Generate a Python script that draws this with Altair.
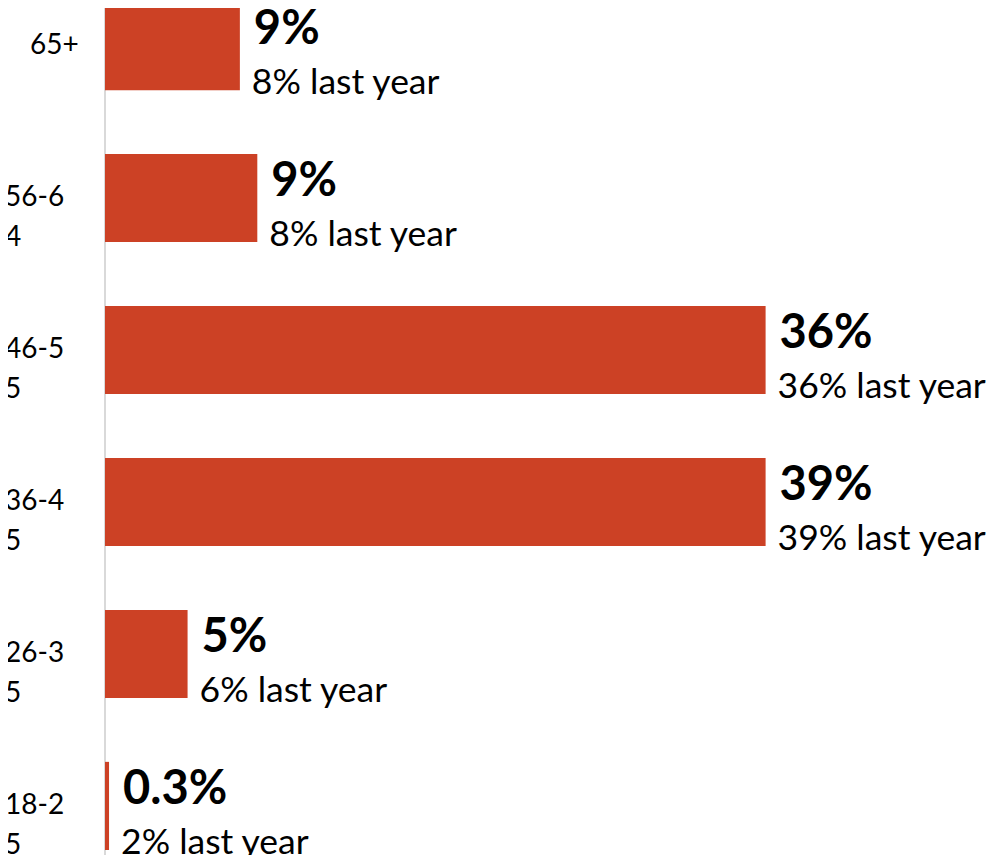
import altair as alt
import pandas as pd

ages = ["65+", "56-64", "46-55", "36-45", "26-35", "18-25"]
bar_values = [7.35, 8.3, 36.0, 36.0, 4.5, 0.22]
this_year = ["9%", "9%", "36%", "39%", "5%", "0.3%"]
last_year = ["8% last year", "8% last year", "36% last year", "39% last year", "6% last year", "2% last year"]

df = pd.DataFrame({"age": ages, "value": bar_values, "cur": this_year, "prev": last_year})

FONT = "Lato"
BAR = "#CC4125"
W, H = 734, 847

x = alt.X("value:Q", scale=alt.Scale(domain=[0, 40], nice=False), axis=None)
y = alt.Y("age:N", sort=ages, axis=None,
          scale=alt.Scale(range=[-6, 842], paddingInner=0.42, paddingOuter=0))

base = alt.Chart(df)

bars = base.mark_bar(color=BAR).encode(x=x, y=y)

cur_txt = base.mark_text(font=FONT, fontWeight="bold", fontSize=47, align="left",
                         baseline="alphabetic", dx=14, dy=-2, color="#000000").encode(
    x=x, y=y, text="cur:N")

prev_txt = base.mark_text(font=FONT, fontSize=35.5, align="left",
                          baseline="alphabetic", dx=12, dy=48, color="#000000").encode(
    x=x, y=y, text="prev:N")

axis_line = base.mark_rule(color="#D9D9D9", strokeWidth=2).encode(
    x=alt.value(0), y=alt.value(0), y2=alt.value(H))

lab_base = base.transform_calculate(
    lab="length(datum.age) > 4 ? substring(datum.age, 0, 4) + '\\n' + substring(datum.age, 4) : datum.age"
)

lab_short = lab_base.transform_filter("length(datum.age) <= 4").mark_text(
    font=FONT, fontSize=28, align="left", baseline="alphabetic", dy=8, color="#000000",
    lineBreak="\n", lineHeight=40).encode(x=alt.value(-75), y=y, text="lab:N")

lab_long = lab_base.transform_filter("length(datum.age) > 4").mark_text(
    font=FONT, fontSize=28, align="left", baseline="alphabetic", dy=8, color="#000000",
    lineBreak="\n", lineHeight=40).encode(x=alt.value(-100), y=y, text="lab:N")

chart = alt.layer(axis_line, bars, cur_txt, prev_txt, lab_short, lab_long).properties(
    width=W, height=H,
    autosize=alt.AutoSizeParams(type="none"),
    padding={"left": 97, "top": 0, "right": 149, "bottom": 0},
).configure_view(stroke=None)

chart.save("out.html", embed_options={"renderer": "svg", "actions": False})
